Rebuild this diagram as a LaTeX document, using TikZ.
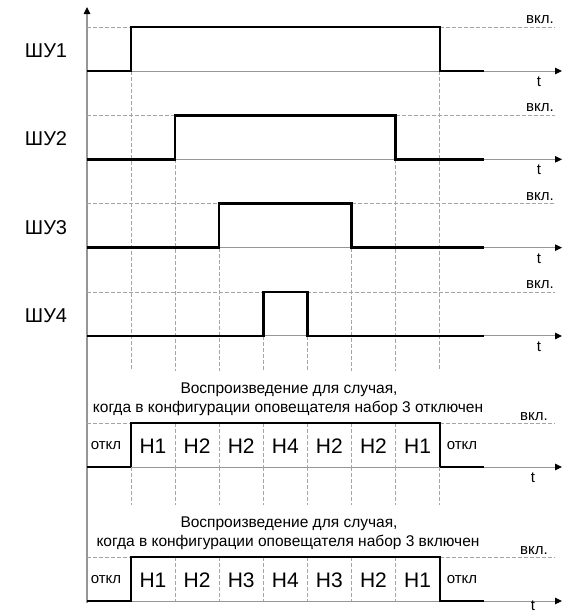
\documentclass[tikz,border=0pt]{standalone}
\usepackage{fontspec}
\setmainfont{Liberation Sans}
\usetikzlibrary{arrows.meta}
\definecolor{axisgray}{RGB}{150,150,150}
\definecolor{dashgray}{RGB}{165,165,165}
\begin{document}
\begin{tikzpicture}[x=1pt,y=-1pt,
  axisline/.style={draw=axisgray,line width=1pt,-{Triangle[length=7pt,width=6.5pt,color=black]}},
  vaxis/.style={draw=axisgray,line width=1.4pt,-{Triangle[length=7pt,width=6.5pt,color=black]}},
  sig/.style={draw=black,line width=2.4pt,line join=miter},
  guide/.style={draw=dashgray,line width=0.8pt,dash pattern=on 4pt off 2pt},
  chan/.style={anchor=base,font=\fontsize{20}{24}\selectfont},
  cell/.style={anchor=base,font=\fontsize{21}{24}\selectfont},
  small/.style={anchor=base,font=\fontsize{15}{17}\selectfont},
  caption/.style={anchor=base,font=\fontsize{15.5}{18}\selectfont},
  inner sep=0pt]
\useasboundingbox (0,0) rectangle (563,613);
% vertical axis
\coordinate (ybot) at (87,603);
\coordinate (ytop) at (87,7);
\draw[vaxis] (ybot) -- (ytop);
% four channels
\foreach \k/\lab in {0/ШУ1,1/ШУ2,2/ШУ3,3/ШУ4} {
  \pgfmathsetmacro\hi{27+88.33*\k}
  \pgfmathsetmacro\lo{\hi+44}
  \pgfmathsetmacro\r{131+44.1*\k}
  \pgfmathsetmacro\f{131+44.1*(7-\k)}
  \draw[axisline] (87,\lo) -- (562,\lo);
  \draw[guide] (87,\hi) -- (\r,\hi) (\f,\hi) -- (555,\hi);
  \draw[guide] (\r,\lo) -- (\r,371) (\f,\lo) -- (\f,371);
  \draw[sig] (87,\lo) -- (\r,\lo) -- (\r,\hi) -- (\f,\hi) -- (\f,\lo) -- (484,\lo);
  \node[chan] (lab\k) at (46,\hi+30.5) {\lab};
  \node[small] (on\k) at (540,\hi-3.5) {вкл.};
  \node[small] (t\k) at (539,\lo+15.5) {t};
}
% playback boxes
\foreach \b/\top/\third/\word/\tb in {0/423/H2/отключен/482,1/557/H3/включен/610} {
  \pgfmathsetmacro\low{\top+44}
  \draw[axisline] (87,\low) -- (562,\low);
  \draw[guide] (87,\top) -- (131,\top) (439.7,\top) -- (555,\top);
  \foreach \i in {1,...,6} {
    \pgfmathsetmacro\xx{131+44.1*\i}
    \draw[guide] (\xx,\top) -- (\xx,\low);
  }
  \draw[sig] (87,\low) -- (131,\low) -- (131,\top) -- (439.7,\top) -- (439.7,\low) -- (484,\low);
  \node[caption] (capa\b) at (289,\top-29.5) {Воспроизведение для случая,};
  \node[caption] (capb\b) at (288,\top-11) {когда в конфигурации оповещателя набор 3 \word};
  \node[small] (offl\b) at (106,\top+26) {откл};
  \node[small] (offr\b) at (462,\top+26) {откл};
  \node[small] (onb\b) at (534,\top-3) {вкл.};
  \node[small] (tb\b) at (533,\tb) {t};
  \foreach \i/\txt in {0/H1,1/H2,2/\third,3/H4,4/\third,5/H2,6/H1} {
    \pgfmathsetmacro\xc{153+44.1*\i}
    \node[cell] (c\b\i) at (\xc,\top+30) {\txt};
  }
}
% guides below first box
\foreach \i in {0,...,7} {
  \pgfmathsetmacro\xx{131+44.1*\i}
  \draw[guide] (\xx,467) -- (\xx,505);
}
\end{tikzpicture}
\end{document}
